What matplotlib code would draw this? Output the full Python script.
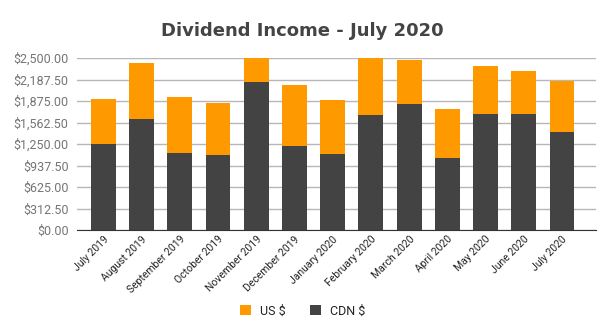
import matplotlib
matplotlib.use("Agg")
import matplotlib.pyplot as plt
from matplotlib.ticker import FuncFormatter, FixedLocator
from matplotlib.patches import Patch

months = ["July 2019", "August 2019", "September 2019", "October 2019", "November 2019",
          "December 2019", "January 2020", "February 2020", "March 2020", "April 2020",
          "May 2020", "June 2020", "July 2020"]
cdn = [1252, 1617, 1121, 1092, 2155, 1223, 1107, 1675, 1835, 1049, 1689, 1689, 1427]
total = [1903, 2427, 1932, 1850, 2620, 2107, 1888, 2700, 2471, 1757, 2383, 2311, 2165]
us = [t - c for t, c in zip(total, cdn)]
yticks = [0, 312.5, 625, 937.5, 1250, 1562.5, 1875, 2187.5, 2500]

plt.rcParams['font.family'] = ['Roboto', 'DejaVu Sans']

fig = plt.figure(figsize=(6.05, 3.35), dpi=100)
ax = fig.add_axes([77/605, 1-230/335, (596-77)/605, (230-58)/335])

x = list(range(len(months)))
ax.bar(x, cdn, width=0.65, color="#434343", label="CDN $", zorder=3)
ax.bar(x, us, bottom=cdn, width=0.65, color="#FF9900", label="US $", zorder=3)

ax.set_ylim(0, 2500)
ax.set_xlim(-0.69, 12.89)
ax.yaxis.set_major_locator(FixedLocator(yticks))
ax.yaxis.set_major_formatter(FuncFormatter(lambda v, p: "${:,.2f}".format(v)))
ax.grid(axis='y', color="#b7b7b7", linewidth=1, zorder=0)
for s in ["top", "right", "left"]:
    ax.spines[s].set_visible(False)
ax.spines["bottom"].set_color("#333333")
ax.spines["bottom"].set_zorder(4)
ax.tick_params(axis='y', length=0, labelsize=9, labelcolor="#757575", pad=6)
ax.tick_params(axis='x', length=0, pad=3)
ax.set_xticks(x)
ax.set_xticklabels(months, rotation=45, ha='right', rotation_mode='anchor',
                   fontsize=7.5, color="#222222")

fig.text(0.5, 1-31/335, "Dividend Income - July 2020", ha='center', va='center',
         fontsize=13, fontweight='bold', color="#444444", family='DejaVu Sans')

handles = [Patch(facecolor="#FF9900", label="US $"), Patch(facecolor="#434343", label="CDN $")]
fig.legend(handles=handles, loc='center', bbox_to_anchor=(0.5, 1-311/335), ncol=2,
           frameon=False, fontsize=9, handlelength=0.9, handleheight=0.9,
           columnspacing=2.0, handletextpad=0.7, labelcolor="#222222")

fig.savefig("out.png", dpi=100)
